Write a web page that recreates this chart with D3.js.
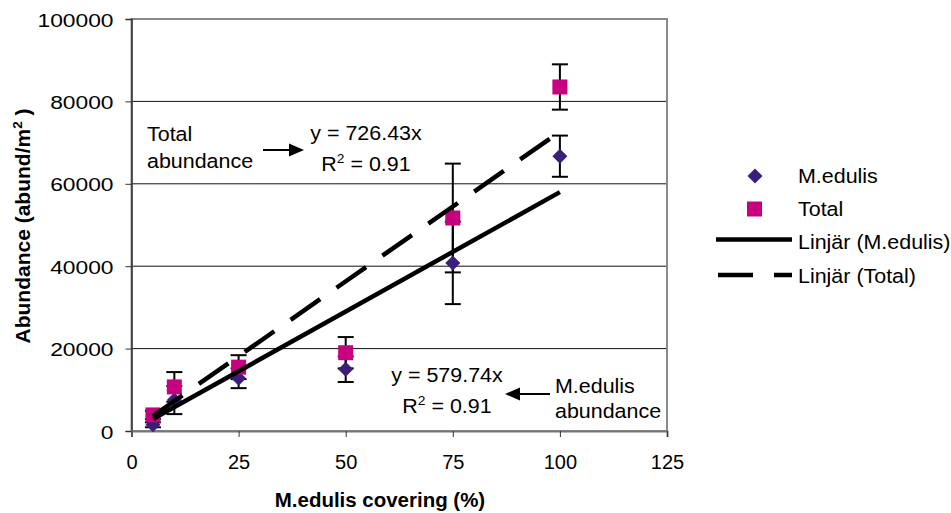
<!DOCTYPE html>
<html><head><meta charset="utf-8">
<script src="https://cdn.jsdelivr.net/npm/d3@7"></script>
<style>
html,body{margin:0;padding:0;background:#fff;}
svg text{font-family:"Liberation Sans",Arial,sans-serif;fill:#000;}
</style></head>
<body>
<svg id="chart" width="951" height="513"></svg>
<script>
// ---- data ----
const coverage = [5, 10, 25, 50, 75, 100];
const medulis = [1500, 7500, 12800, 15000, 40800, 66700];
const medulisErr = [600, 3400, 2400, 3100, 10000, 5000];
const total = [3900, 10700, 15500, 19000, 51700, 83500];
const totalErr = [1000, 3600, 2900, 3800, 13200, 5500];
const trendSlopes = [579.74, 726.43]; // M.edulis, Total
const xTicks = [0, 25, 50, 75, 100, 125];
const yTicks = [0, 20000, 40000, 60000, 80000, 100000];
const legendLabels = ["M.edulis", "Total", "Linjär (M.edulis)", "Linjär (Total)"];

const colMed = "#3B1E7A", colTot = "#C6007E";
const svg = d3.select("#chart");
const x = d3.scaleLinear().domain([0, 125]).range([131.5, 667]);
const y = d3.scaleLinear().domain([0, 100000]).range([431, 19]);

// gridlines
svg.append("g").selectAll("line").data(yTicks.filter(d => d > 0 && d < 100000)).join("line")
  .attr("x1", x(0)).attr("x2", x(125)).attr("y1", d => y(d)).attr("y2", d => y(d))
  .attr("stroke", "#111").attr("stroke-width", 1);

// frame
svg.append("rect").attr("x", x(0)).attr("y", y(100000)).attr("width", x(125) - x(0)).attr("height", y(0) - y(100000))
  .attr("fill", "none").attr("stroke", "#8a8a8a").attr("stroke-width", 2);

// axes
const yAxis = svg.append("g").attr("transform", `translate(${x(0)},0)`)
  .call(d3.axisLeft(y).tickValues(yTicks).tickSize(6).tickFormat(d3.format("d")));
yAxis.select(".domain").attr("stroke", "#333").attr("stroke-width", 1.5);
yAxis.selectAll(".tick line").attr("stroke", "#333");
yAxis.selectAll(".tick text").attr("font-size", 19).attr("x", -15).attr("dy", 0).attr("y", 7)
  .attr("transform", "scale(1.2,1)").attr("text-anchor", "end");

const xAxis = svg.append("g").attr("transform", `translate(0,${y(0)})`)
  .call(d3.axisBottom(x).tickValues(xTicks).tickSize(6).tickFormat(d3.format("d")));
xAxis.select(".domain").attr("stroke", "#777").attr("stroke-width", 2);
xAxis.selectAll(".tick line").attr("stroke", "#333");
xAxis.selectAll(".tick text").attr("font-size", 20).attr("y", 38).attr("dy", 0);
xAxis.selectAll("text").attr("font-family", "Liberation Sans, Arial, sans-serif").attr("fill", "#000");
yAxis.selectAll("text").attr("font-family", "Liberation Sans, Arial, sans-serif").attr("fill", "#000");

// axis titles
svg.append("text").attr("x", 380).attr("y", 507).attr("text-anchor", "middle")
  .attr("font-size", 19.5).attr("font-weight", "bold")
  .attr("transform", "translate(380,0) scale(1.05,1) translate(-380,0)")
  .text("M.edulis covering (%)");
const yt = svg.append("text").attr("transform", "translate(30,226) rotate(-90)")
  .attr("text-anchor", "middle").attr("font-size", 21).attr("font-weight", "bold");
yt.append("tspan").text("Abundance (abund/m");
yt.append("tspan").attr("font-size", 13.5).attr("dy", -8).text("2");
yt.append("tspan").attr("dy", 8).text(" )");

// error bars
function errBars(vals, errs) {
  const g = svg.append("g").attr("stroke", "#000").attr("stroke-width", 2);
  coverage.forEach((c, i) => {
    const xc = x(c), y1 = y(vals[i] + errs[i]), y2 = y(vals[i] - errs[i]);
    g.append("line").attr("x1", xc).attr("x2", xc).attr("y1", y1).attr("y2", y2);
    g.append("line").attr("x1", xc - 8).attr("x2", xc + 8).attr("y1", y1).attr("y2", y1);
    g.append("line").attr("x1", xc - 8).attr("x2", xc + 8).attr("y1", y2).attr("y2", y2);
  });
}
errBars(medulis, medulisErr);
errBars(total, totalErr);

// markers
const diamond = s => `M0,${-s}L${s},0L0,${s}L${-s},0Z`;
svg.append("g").selectAll("path").data(coverage).join("path")
  .attr("d", diamond(7.5)).attr("fill", colMed)
  .attr("transform", (d, i) => `translate(${x(d)},${y(medulis[i])})`);
svg.append("g").selectAll("rect").data(coverage).join("rect")
  .attr("x", d => x(d) - 7.5).attr("y", (d, i) => y(total[i]) - 7.5)
  .attr("width", 15).attr("height", 15).attr("fill", colTot);

// trend lines
const xMin = d3.min(coverage), xMax = d3.max(coverage);
const line = d3.line().x(d => x(d[0])).y(d => y(d[1]));
svg.append("path").attr("d", line([[xMin, xMin * trendSlopes[0]], [xMax, xMax * trendSlopes[0]]]))
  .attr("stroke", "#000").attr("stroke-width", 4.5).attr("fill", "none");
svg.append("path").attr("d", line([[xMin, xMin * trendSlopes[1]], [xMax, xMax * trendSlopes[1]]]))
  .attr("stroke", "#000").attr("stroke-width", 4.5).attr("fill", "none").attr("stroke-dasharray", "36,20");

// annotations
function stretched(txt, xx, yy, anchor, sx) {
  return svg.append("text").attr("x", xx).attr("y", yy).attr("text-anchor", anchor).attr("font-size", 19.5)
    .attr("transform", `translate(${xx},0) scale(${sx},1) translate(${-xx},0)`).text(txt);
}
stretched("Total", 147, 141, "start", 1.1);
stretched("abundance", 147, 168, "start", 1.1);
stretched("y = " + trendSlopes[1] + "x", 366, 140, "middle", 1.1);
const r1 = svg.append("text").attr("x", 366).attr("y", 171).attr("text-anchor", "middle").attr("font-size", 19.5)
  .attr("transform", "translate(366,0) scale(1.1,1) translate(-366,0)");
r1.append("tspan").text("R");
r1.append("tspan").attr("font-size", 12.5).attr("dy", -8).text("2");
r1.append("tspan").attr("dy", 8).text(" = 0.91");

stretched("y = " + trendSlopes[0] + "x", 447, 382, "middle", 1.1);
const r2 = svg.append("text").attr("x", 447).attr("y", 413).attr("text-anchor", "middle").attr("font-size", 19.5)
  .attr("transform", "translate(447,0) scale(1.1,1) translate(-447,0)");
r2.append("tspan").text("R");
r2.append("tspan").attr("font-size", 12.5).attr("dy", -8).text("2");
r2.append("tspan").attr("dy", 8).text(" = 0.91");
stretched("M.edulis", 555, 393, "start", 1.1);
stretched("abundance", 555, 418, "start", 1.1);

// arrows
function arrow(x1, y1, x2, y2) {
  const dir = Math.sign(x2 - x1);
  svg.append("line").attr("x1", x1).attr("y1", y1).attr("x2", x2 - dir * 12).attr("y2", y2)
    .attr("stroke", "#000").attr("stroke-width", 2);
  svg.append("path").attr("d", `M${x2},${y2}L${x2 - dir * 15},${y2 - 6.5}L${x2 - dir * 15},${y2 + 6.5}Z`).attr("fill", "#000");
}
arrow(263, 150, 304, 150);
arrow(550, 394, 505, 394);

// legend
const lg = svg.append("g");
lg.append("path").attr("d", diamond(7.5)).attr("fill", colMed).attr("transform", "translate(755,176)");
lg.append("rect").attr("x", 747).attr("y", 201.5).attr("width", 15).attr("height", 15).attr("fill", colTot);
lg.append("line").attr("x1", 716).attr("x2", 792).attr("y1", 239.5).attr("y2", 239.5).attr("stroke", "#000").attr("stroke-width", 4.5);
lg.append("line").attr("x1", 718).attr("x2", 792).attr("y1", 275).attr("y2", 275).attr("stroke", "#000").attr("stroke-width", 4.5)
  .attr("stroke-dasharray", "35,21");
const lys = [183, 216, 249, 283];
legendLabels.forEach((t, i) => stretched(t, 798, lys[i], "start", 1.1));
</script>
</body></html>
